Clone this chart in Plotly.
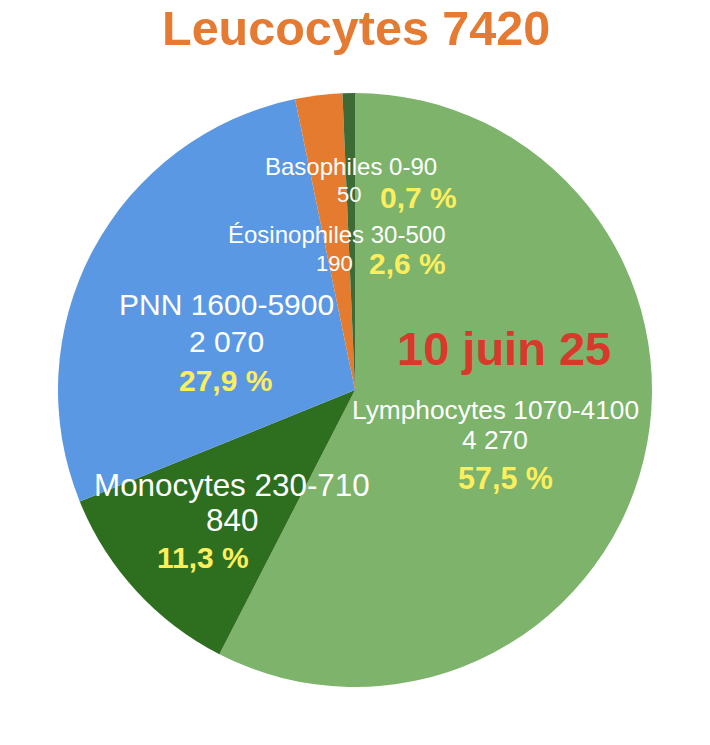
import plotly.graph_objects as go

W, H = 710, 745

categories = ["Lymphocytes", "Monocytes", "PNN", "Éosinophiles", "Basophiles"]
values = [4270, 840, 2070, 190, 50]
ranges = ["1070-4100", "230-710", "1600-5900", "30-500", "0-90"]
counts_txt = ["4 270", "840", "2 070", "190", "50"]
pct_txt = ["57,5 %", "11,3 %", "27,9 %", "2,6 %", "0,7 %"]
colors = ["#7db36b", "#2e6e1f", "#5a98e3", "#e57b2f", "#3d6b35"]
title_text = "Leucocytes 7420"
date_text = "10 juin 25"

FONT = "Liberation Sans, Arial, Helvetica, sans-serif"
YEL = "#fcee5c"
OFF = 8  # page offset of the figure

cx, cy, r = 355, 390, 297

def px(x):
    return (x - OFF) / W

def py(y):
    return 1 - (y - OFF) / H

fig = go.Figure(go.Pie(
    labels=categories, values=values, sort=False, direction="clockwise",
    rotation=0, marker=dict(colors=colors, line=dict(width=0)),
    textinfo="none", hoverinfo="label+value+percent", showlegend=False,
    domain=dict(x=[px(cx - r), px(cx + r)], y=[py(cy + r), py(cy - r)]),
))

ann = []
def add(text, x, y, size, color="white", bold=False, xanchor="center"):
    t = f"<b>{text}</b>" if bold else text
    ann.append(dict(text=t, x=px(x), y=py(y), xref="paper", yref="paper",
                    xanchor=xanchor, yanchor="middle", showarrow=False,
                    font=dict(family=FONT, size=size, color=color)))

add(title_text, 356, 28, 48.5, "#e57a32", True)
add(date_text, 504, 348, 47, "#d9392b", True)

# Basophiles
add(f"{categories[4]} {ranges[4]}", 351, 167, 24)
add(counts_txt[4], 363, 195, 22, xanchor="right")
add(pct_txt[4], 378, 197, 30, YEL, True, xanchor="left")
# Eosinophiles
add(f"{categories[3]} {ranges[3]}", 337, 234, 24)
add(counts_txt[3], 355, 263, 22, xanchor="right")
add(pct_txt[3], 367, 263, 30, YEL, True, xanchor="left")
# PNN
add(f"{categories[2]} {ranges[2]}", 227, 305, 30)
add(counts_txt[2], 227, 342, 30)
add(pct_txt[2], 226, 380, 30, YEL, True)
# Lymphocytes
add(f"{categories[0]} {ranges[0]}", 495, 410, 26.3)
add(counts_txt[0], 495, 440, 26.3)
add(pct_txt[0], 506, 478, 30.5, YEL, True)
# Monocytes
add(f"{categories[1]} {ranges[1]}", 232, 485, 31.4)
add(counts_txt[1], 232, 520, 31.4)
add(pct_txt[1], 203, 557, 30, YEL, True)

fig.update_layout(
    width=W, height=H, margin=dict(l=0, r=0, t=0, b=0),
    paper_bgcolor="white", plot_bgcolor="white",
    annotations=ann,
)
fig.write_html("out.html")
